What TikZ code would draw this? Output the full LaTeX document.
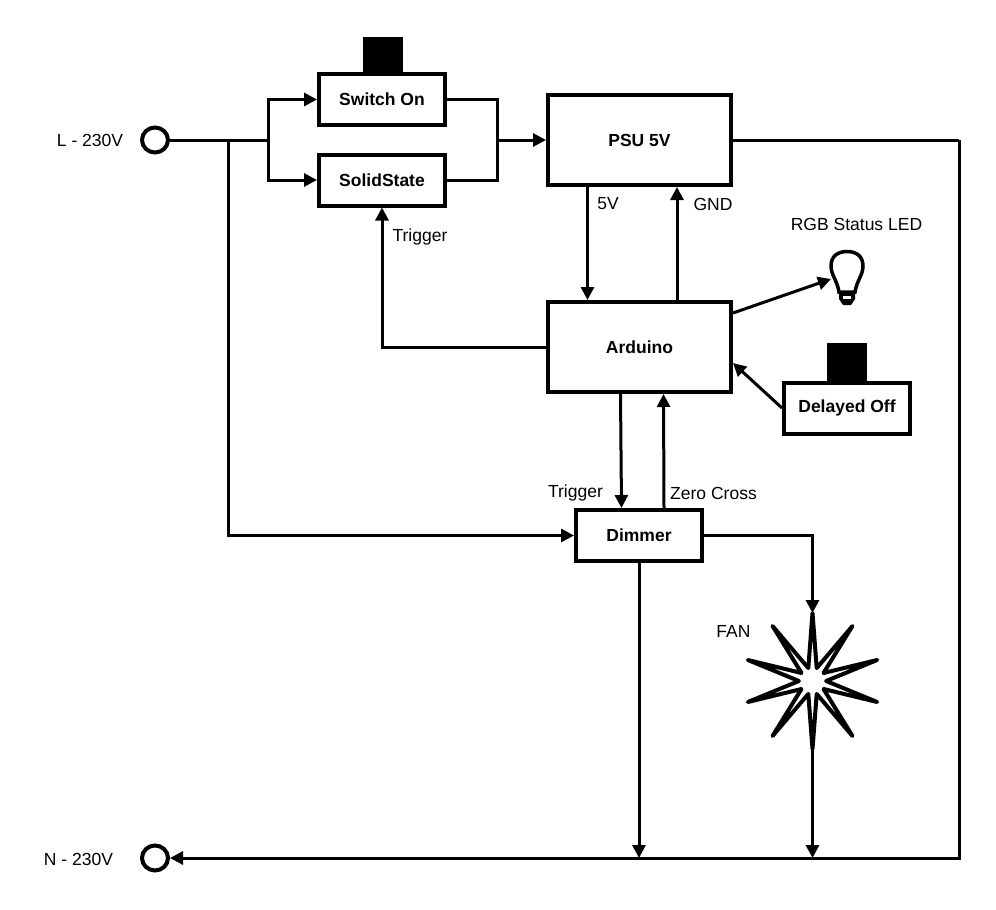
\documentclass[tikz,border=0pt]{standalone}
\usepackage{fontspec}
\setmainfont{Liberation Sans}
\usetikzlibrary{arrows.meta,shapes.geometric}
\begin{document}
\begin{tikzpicture}[x=1pt,y=-1pt]
        \tikzstyle{every node}=[font=\fontsize{17.5}{20}\selectfont]
        \tikzstyle{box}=[draw,line width=4pt,font=\fontsize{17.5}{20}\selectfont\bfseries,inner sep=0pt]
        \tikzstyle{small box}=[box,minimum width=126pt,minimum height=51pt]
        \tikzstyle{big box}=[box,minimum width=183pt,minimum height=90pt]
        \tikzstyle{knob}=[fill=black,inner sep=0pt,minimum width=40pt,minimum height=38pt]
        \tikzstyle{terminal}=[draw,ellipse,line width=4pt,inner sep=0pt,minimum width=26pt,minimum height=25pt]
        \tikzstyle{wire}=[line width=3pt]
        \tikzstyle{arrow}=[wire,-{Triangle[length=13pt,width=13pt]}]

        \useasboundingbox (0,0) rectangle (996,910);

% Boxes, buttons and mains terminals

        \node[terminal] (live) at (155,140) {};
        \node[terminal] (neutral) at (155,858) {};
        \node (labellive) at (90,140) {L - 230V};
        \node (labelneutral) at (78.5,859) {N - 230V};

        \node[small box] (switch) at (382,99.5) {Switch On};
        \node[small box] (solid) at (382,180) {SolidState};
        \node[knob] (switchknob) at (382.5,55.5) {};
        \node[big box] (psu) at (639.5,140) {PSU 5V};
        \node[big box] (arduino) at (639.5,347) {Arduino};
        \node[small box] (delayed) at (847,408) {Delayed Off};
        \node[knob] (delayedknob) at (847,362) {};
        \node[small box] (dimmer) at (639,535.5) {Dimmer};

        \node[draw,star,star points=10,star point ratio=5,line width=4pt,line join=round,inner sep=0pt,outer sep=0pt,minimum size=136pt] (fan) at (812.5,681) {};

% Bulb

        \draw[line width=3.5pt] (839,292) .. controls (837,280) and (831,275) .. (831,266) .. controls (831,256) and (838,251.5) .. (847,251.5) .. controls (856,251.5) and (863,256) .. (863,266) .. controls (863,275) and (857,280) .. (855,292) -- cycle;
        \fill (839,292) -- (855,292) -- (855,299) -- (851,305) -- (843,305) -- (839,299) -- cycle;
        \fill[white] (843,296) rectangle (851,299);
        \coordinate (bulb) at (831,279);

% Wires

        \coordinate (split) at (268,140);
        \coordinate (tap) at (228,140);
        \coordinate (join) at (497,140);
        \coordinate (return) at (959,140);

        \draw[wire] (live) -- (split);
        \draw[arrow] (split) |- (switch);
        \draw[arrow] (split) |- (solid);
        \draw[wire] (switch) -| (join);
        \draw[wire] (solid) -| (join);
        \draw[arrow] (join) -- (psu);
        \draw[arrow] (tap) |- (dimmer);
        \draw[wire] (psu) -- (return);
        \draw[arrow] (return) |- (neutral);

        \draw[arrow] ([xshift=-52pt]psu.south) -- ([xshift=-52pt]arduino.north);
        \draw[arrow] ([xshift=37.5pt]arduino.north) -- ([xshift=37.5pt]psu.south);
        \draw[arrow] (arduino) -| (solid);
        \draw[arrow] ([yshift=34pt]arduino.east) -- (bulb);
        \draw[arrow] (delayed.west) -- ([yshift=-16pt]arduino.east);
        \draw[arrow] ([xshift=-19pt]arduino.south) -- ([xshift=-17.5pt]dimmer.north);
        \draw[arrow] ([xshift=25pt]dimmer.north) -- ([xshift=24pt]arduino.south);
        \draw[arrow] (dimmer) -| (fan.outer point 1);
        \draw[arrow] (dimmer) -- (dimmer |- neutral);
        \draw[arrow] (fan.outer point 6) -- (fan |- neutral);

% Labels

        \node (labelfive) at (608,204) {5V};
        \node (labelgnd) at (713,204) {GND};
        \node (labeltrigger) at (420,237) {Trigger};
        \node (labelled) at (856.5,224) {RGB Status LED};
        \node (labeldimmer) at (575.5,493) {Trigger};
        \node (labelzero) at (713.5,493) {Zero Cross};
        \node (labelfan) at (733.5,631) {FAN};

    \end{tikzpicture}
\end{document}
